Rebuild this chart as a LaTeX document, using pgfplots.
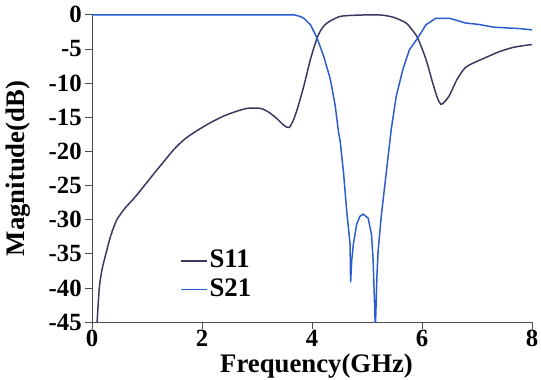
\documentclass[border=0pt]{standalone}
\usepackage{fontspec}
\setmainfont{Liberation Serif}
\usepackage{pgfplots}
\pgfplotsset{compat=1.18}
\definecolor{sone}{HTML}{3A3860}
\definecolor{stwo}{HTML}{2A5CD0}
\begin{document}
\begin{tikzpicture}
\begin{axis}[
  name=ax,
  scale only axis, width=444pt, height=310pt,
  xmin=0, xmax=8, ymin=-45, ymax=0,
  axis x line=bottom, axis y line=left,
  axis line style={-, draw=black!70, line width=0.8pt},
  tick align=outside, major tick length=7pt,
  tick style={black!70, line width=0.8pt},
  xtick={0,2,4,6,8}, xticklabels={0,2,4,6,8},
  ytick={-45,-40,-35,-30,-25,-20,-15,-10,-5,0},
  yticklabels={-45,-40,-35,-30,-25,-20,-15,-10,-5,0},
  ticklabel style={font=\fontsize{25}{25}\selectfont\bfseries},
  xticklabel style={yshift=2pt},
  xlabel={Frequency(GHz)}, ylabel={Magnitude(dB)},
  label style={font=\fontsize{27}{27}\selectfont\bfseries},
  xlabel style={at={(axis description cs:0.51,-0.145)}, anchor=center},
  ylabel style={at={(axis description cs:-0.169,0.5)}, anchor=center, rotate=0},
  legend style={draw=none, fill=none, inner sep=0pt, at={(axis cs:1.6,-33.9)}, anchor=north west,
    font=\fontsize{27}{27}\selectfont\bfseries, row sep=0pt,
    nodes={inner sep=2pt, text height=19pt, text depth=6pt}},
  legend cell align=left,
  legend image code/.code={\draw[#1] (0pt,0pt) -- (26pt,0pt);},
  clip=true,
]
\addplot[sone, line width=1.5pt, smooth, tension=0.45] coordinates {
(0.09,-45) (0.13,-40) (0.18,-37.3) (0.25,-35) (0.34,-32.3) (0.45,-30) (0.6,-28.3) (0.78,-26.7) (1.0,-24.5) (1.2,-22.5) (1.5,-19.6) (1.7,-18.1) (1.92,-16.9) (2.15,-15.8) (2.4,-14.8) (2.6,-14.2) (2.82,-13.7) (3.06,-13.7) (3.2,-14.2) (3.36,-15.2) (3.49,-16.2) (3.58,-16.5) (3.65,-15.6) (3.73,-13.8) (3.85,-10.4) (3.97,-6.5) (4.09,-3.4) (4.17,-2.1) (4.27,-1.2) (4.5,-0.25) (4.8,-0.05) (5.2,0) (5.4,-0.2) (5.53,-0.5) (5.71,-1.2) (5.82,-2.2) (5.92,-3.4) (6.07,-6.5) (6.19,-9.9) (6.28,-12.2) (6.34,-13.1) (6.4,-12.8) (6.49,-11.9) (6.64,-9.4) (6.79,-7.7) (7.0,-6.8) (7.2,-6.1) (7.4,-5.4) (7.64,-4.8) (7.85,-4.5) (8,-4.35)
};
\addlegendentry{S11}
\addplot[stwo, line width=1.5pt] coordinates {
(0,0) (3.67,0) (3.77,-0.2) (3.85,-0.5) (3.97,-1.45) (4.09,-3.4) (4.21,-6.05) (4.33,-9.4) (4.42,-13.3) (4.48,-17.2) (4.51,-18.5) (4.57,-23) (4.63,-28.8) (4.69,-33.6) (4.70,-39.2) (4.72,-36) (4.75,-33.6) (4.81,-30.7) (4.87,-29.5) (4.93,-29.2) (5.02,-29.8) (5.08,-32.2) (5.11,-36) (5.15,-46) (5.18,-38) (5.2,-34.6) (5.26,-29.3) (5.35,-23) (5.44,-16.7) (5.53,-11.9) (5.65,-8) (5.77,-5.1) (5.92,-3.4) (6.07,-1.45) (6.25,-0.5) (6.5,-0.5) (6.79,-1.2) (7.03,-1.4) (7.3,-1.8) (7.51,-1.9) (7.75,-2.0) (8,-2.2)
};
\addlegendentry{S21}
\end{axis}
\pgfresetboundingbox
\path ([shift={(-93pt,-58pt)}]ax.south west) rectangle ([shift={(9pt,15pt)}]ax.north east);
\end{tikzpicture}
\end{document}
